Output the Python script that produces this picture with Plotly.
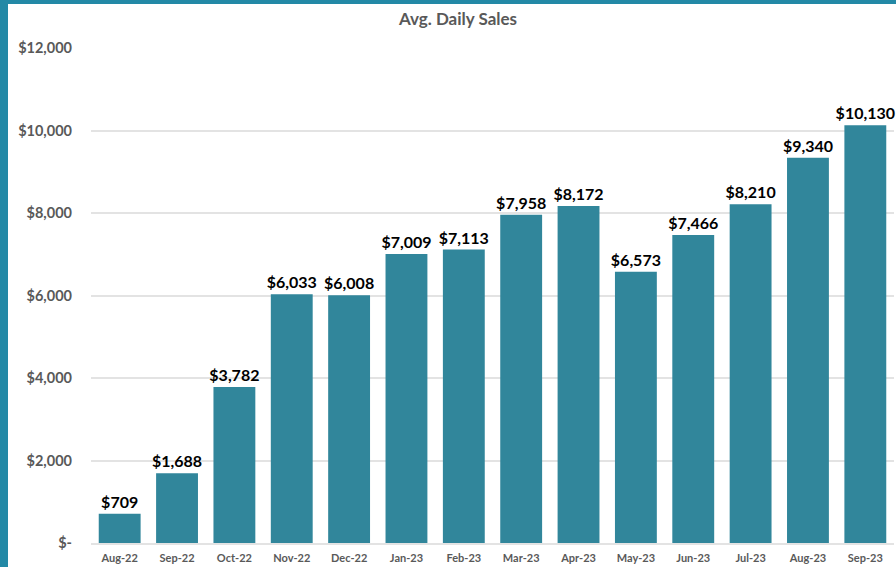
import plotly.graph_objects as go

months = ["Aug-22", "Sep-22", "Oct-22", "Nov-22", "Dec-22", "Jan-23", "Feb-23",
          "Mar-23", "Apr-23", "May-23", "Jun-23", "Jul-23", "Aug-23", "Sep-23"]
sales = [709, 1688, 3782, 6033, 6008, 7009, 7113, 7958, 8172, 6573, 7466, 8210, 9340, 10130]
y_ticks = [0, 2000, 4000, 6000, 8000, 10000, 12000]
y_tick_labels = ["$-", "$2,000", "$4,000", "$6,000", "$8,000", "$10,000", "$12,000"]

W, H = 896, 567
L, R, T, B = 91, 2, 48, 24
pw, ph = W - L - R, H - T - B

fig = go.Figure(go.Bar(
    x=months, y=sales,
    marker=dict(color="#31869B", line=dict(width=0)),
    text=[f"${v:,}" for v in sales],
    textposition="outside",
    textfont=dict(family="Lato", size=16, color="#000000", weight="bold"),
    cliponaxis=False,
))

fig.update_layout(
    width=W, height=H,
    margin=dict(l=L, r=R, t=T, b=B),
    paper_bgcolor="white", plot_bgcolor="white",
    bargap=0.27,
    showlegend=False,
    uniformtext=dict(minsize=16, mode="show"),
    title=dict(text="Avg. Daily Sales", x=(458 - L) / pw, xref="paper", xanchor="center",
               y=1 - 19 / H, yanchor="middle",
               font=dict(family="Lato", size=17, color="#595959", weight="bold")),
    font=dict(family="Lato"),
)
fig.update_yaxes(
    range=[0, 12000], tickvals=y_ticks, ticktext=y_tick_labels,
    showgrid=True, gridcolor="#E3E3E3", gridwidth=1.5,
    zeroline=False, showline=False, ticks="",
    ticklabelstandoff=18,
    tickfont=dict(family="Lato", size=14.5, color="#595959", weight="bold"),
)
fig.update_xaxes(
    showline=True, linecolor="#E3E3E3", linewidth=1.5, ticks="",
    ticklabelstandoff=4,
    tickfont=dict(family="Lato", size=11, color="#595959", weight="bold"),
)

border = "#2389A6"
fig.add_shape(type="rect", xref="paper", yref="paper", layer="above",
              x0=(0 - L) / pw, x1=(8 - L) / pw, y0=(T - H) / ph, y1=1 + T / ph,
              fillcolor=border, line=dict(width=0))
fig.add_shape(type="rect", xref="paper", yref="paper", layer="above",
              x0=(0 - L) / pw, x1=(W - L) / pw, y0=1 + (T - 4) / ph, y1=1 + T / ph,
              fillcolor=border, line=dict(width=0))

fig.write_html("out.html", config={"displayModeBar": False},
               post_script="document.body.style.margin='0';document.body.style.overflow='hidden';")
